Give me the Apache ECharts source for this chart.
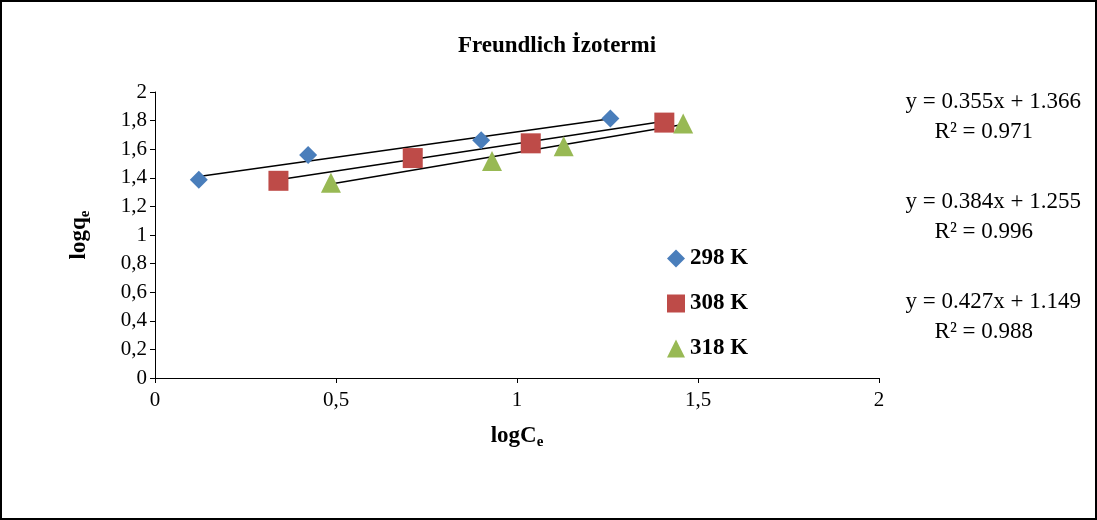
<!DOCTYPE HTML>
<html>
<head>
<meta http-equiv="Content-type" content="text/html; charset=UTF-8" />
<script type="text/javascript" src="https://cdn.jsdelivr.net/npm/echarts@6/dist/echarts.min.js"></script>
<style>
html,body{margin:0;padding:0;background:#fff}
#chart{width:1097px;height:520px;box-sizing:border-box;border:2px solid #000}
</style>
</head>
<body>
<div id="chart"></div>
<script type="text/javascript">
var x298 = [0.121, 0.423, 0.901, 1.258];
var y298 = [1.386, 1.559, 1.662, 1.814];
var x308 = [0.341, 0.712, 1.038, 1.407];
var y308 = [1.379, 1.538, 1.641, 1.786];
var x318 = [0.486, 0.931, 1.129, 1.459];
var y318 = [1.366, 1.517, 1.621, 1.779];
var fits = [[0.355, 1.366], [0.384, 1.255], [0.427, 1.149]];
var r2 = ['0.971', '0.996', '0.988'];
var names = ['298 K', '308 K', '318 K'];
var colors = ['#4a7ebb', '#be4b48', '#98b954'];
var symbols = ['diamond', 'rect', 'triangle'];
var xs = [x298, x308, x318], ys = [y298, y308, y318];

function pairs(a, b) { return a.map(function (v, i) { return [v, b[i]]; }); }
function fmt(v) { return String(v).replace('.', ','); }

var series = [];
// trend lines
for (var i = 0; i < 3; i++) {
  var lo = Math.min.apply(null, xs[i]), hi = Math.max.apply(null, xs[i]);
  series.push({
    type: 'line', silent: true, symbol: 'none', z: 1,
    lineStyle: { color: '#000', width: 1.5 },
    data: [[lo, fits[i][0] * lo + fits[i][1]], [hi, fits[i][0] * hi + fits[i][1]]]
  });
}
for (var i = 0; i < 3; i++) {
  series.push({
    name: names[i], type: 'scatter', z: 3,
    symbol: symbols[i], symbolSize: i == 0 ? 18 : 20,
    itemStyle: { color: colors[i], opacity: 1 },
    data: pairs(xs[i], ys[i])
  });
}

var eqTexts = [];
var eqTop = [88, 188, 288];
for (var i = 0; i < 3; i++) {
  eqTexts.push({
    type: 'text', right: 14, top: eqTop[i],
    style: { text: 'y = ' + fits[i][0] + 'x + ' + fits[i][1].toFixed(3), font: '23px "Liberation Serif"', fill: '#000' }
  });
  eqTexts.push({
    type: 'text', right: 62, top: eqTop[i] + 30,
    style: { text: 'R² = ' + r2[i], font: '23px "Liberation Serif"', fill: '#000' }
  });
}

var option = {
  animation: false,
  title: {
    text: 'Freundlich İzotermi', left: 550, top: 28, textAlign: 'center',
    textStyle: { fontFamily: 'Liberation Serif', fontSize: 23, fontWeight: 'bold', color: '#000' }
  },
  legend: {
    orient: 'vertical', left: 660, top: 240, itemGap: 22,
    itemWidth: 18, itemHeight: 18,
    data: names,
    itemStyle: { opacity: 1 },
    textStyle: { fontFamily: 'Liberation Serif', fontSize: 23, fontWeight: 'bold', color: '#000' }
  },
  grid: { left: 153, right: 216, top: 90, bottom: 140 },
  xAxis: {
    type: 'value', min: 0, max: 2, interval: 0.5,
    name: 'logC{s|e}', nameLocation: 'middle', nameGap: 45,
    nameTextStyle: { fontFamily: 'Liberation Serif', fontSize: 23, fontWeight: 'bold', color: '#000',
      rich: { s: { fontFamily: 'Liberation Serif', fontSize: 15, fontWeight: 'bold', padding: [12, 0, 0, 0] } } },
    axisLine: { lineStyle: { color: '#000' } },
    axisTick: { lineStyle: { color: '#000' }, length: 5 },
    splitLine: { show: false },
    axisLabel: { fontFamily: 'Liberation Serif', fontSize: 21, color: '#000', margin: 12, formatter: fmt }
  },
  yAxis: {
    type: 'value', min: 0, max: 2, interval: 0.2,
    name: 'logq{s|e}', nameLocation: 'middle', nameGap: 62,
    nameTextStyle: { fontFamily: 'Liberation Serif', fontSize: 23, fontWeight: 'bold', color: '#000',
      rich: { s: { fontFamily: 'Liberation Serif', fontSize: 15, fontWeight: 'bold', padding: [12, 0, 0, 0] } } },
    axisLine: { show: true, lineStyle: { color: '#000' } },
    axisTick: { show: true, lineStyle: { color: '#000' }, length: 5 },
    splitLine: { show: false },
    axisLabel: { fontFamily: 'Liberation Serif', fontSize: 21, color: '#000', margin: 8, formatter: fmt }
  },
  graphic: eqTexts,
  series: series
};
var myChart = echarts.init(document.getElementById('chart'));
myChart.setOption(option);
</script>
</body>
</html>
